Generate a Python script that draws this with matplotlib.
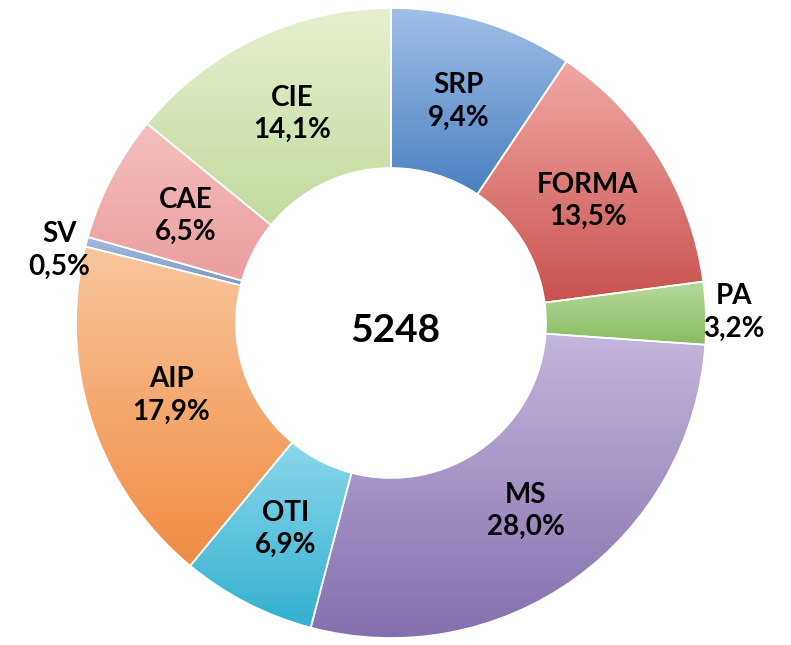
import numpy as np
import matplotlib
matplotlib.use("Agg")
import matplotlib.pyplot as plt
from matplotlib.colors import to_rgb

plt.rcParams['font.family'] = ['Lato', 'DejaVu Sans']

labels = ['SRP', 'FORMA', 'PA', 'MS', 'OTI', 'AIP', 'SV', 'CAE', 'CIE']
shares = [9.4, 13.5, 3.2, 28.0, 6.9, 17.9, 0.5, 6.5, 14.1]
total = '5248'
outside = ['PA', 'SV']

# light (top) / dark (bottom) colour of each slice
top_colors = ['#a0c0e8', '#f2a8a4', '#b6da9c', '#c4b6dc', '#8cd7eb',
              '#f9c69d', '#a4bcdc', '#f5bebe', '#e6f0d0']
bottom_colors = ['#4a80c0', '#c8524e', '#88bc62', '#8470ae', '#32b0d0',
                 '#f08c42', '#7c9ac6', '#eb9e9e', '#c3da9c']

fig = plt.figure(figsize=(7.91, 6.45), dpi=100)
ax = fig.add_axes([0, 0, 1, 1])

cx, cy, R = 391, 322, 315
wedges, _ = ax.pie(shares, startangle=90, counterclock=False,
                   center=(cx, cy), radius=R,
                   colors=bottom_colors,
                   wedgeprops=dict(width=160, edgecolor='white', linewidth=1.2))

# vertical gradient inside every slice
for w, c1, c2 in zip(wedges, top_colors, bottom_colors):
    ext = w.get_path().get_extents()
    t = np.linspace(0, 1, 256)[:, None, None]
    grad = (1 - t) * np.array(to_rgb(c2)) + t * np.array(to_rgb(c1))
    im = ax.imshow(grad, extent=(ext.x0, ext.x1, ext.y0, ext.y1),
                   origin='lower', aspect='auto', interpolation='bicubic',
                   zorder=w.get_zorder())
    im.set_clip_path(w)
    w.set_facecolor('none')
    w.set_zorder(w.get_zorder() + 0.1)

for w, lab, val in zip(wedges, labels, shares):
    ang = np.deg2rad((w.theta1 + w.theta2) / 2)
    r = R * (1.09 if lab in outside else 0.735)
    x, y = cx + r * np.cos(ang), cy + r * np.sin(ang)
    if lab == 'SV':
        y -= 16
    txt = f'{lab}\n{val:.1f}%'.replace('.', ',')
    ax.text(x, y, txt, ha='center', va='center', fontsize=20,
            fontweight='bold', linespacing=1.3, zorder=5)

ax.text(cx + 4, cy - 8, total, ha='center', va='center',
        fontsize=28, fontweight='bold', zorder=5)

ax.set_xlim(0, 791)
ax.set_ylim(0, 645)
ax.set_aspect('equal')
ax.axis('off')
fig.savefig('out.png', dpi=100)
